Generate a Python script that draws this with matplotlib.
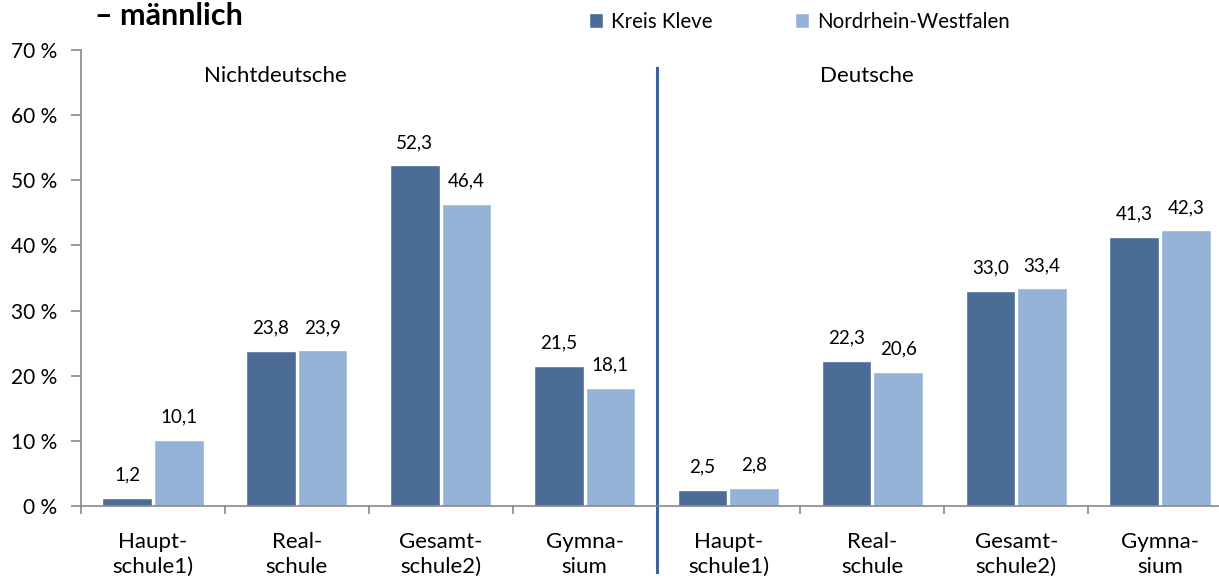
import numpy as np
import matplotlib.pyplot as plt

plt.rcParams['font.family'] = ['Lato', 'DejaVu Sans']

categories = ['Haupt-\nschule1)', 'Real-\nschule', 'Gesamt-\nschule2)', 'Gymna-\nsium',
              'Haupt-\nschule1)', 'Real-\nschule', 'Gesamt-\nschule2)', 'Gymna-\nsium']
kreis_kleve = [1.2, 23.8, 52.3, 21.5, 2.5, 22.3, 33.0, 41.3]
nrw = [10.1, 23.9, 46.4, 18.1, 2.8, 20.6, 33.4, 42.3]
yticks = [0, 10, 20, 30, 40, 50, 60, 70]

dark = '#4A6C96'
light = '#95B3D7'

W, H = 1219, 583
fig = plt.figure(figsize=(W / 100, H / 100), dpi=100)
ax = fig.add_axes([81 / W, 77 / H, 1151 / W, 456 / H])

x = np.arange(len(categories))
bw = 0.345
b1 = ax.bar(x - bw / 2 - 0.007, kreis_kleve, bw, color=dark, edgecolor='white', linewidth=1, label='Kreis Kleve')
b2 = ax.bar(x + bw / 2 + 0.007, nrw, bw, color=light, edgecolor='white', linewidth=1, label='Nordrhein-Westfalen')

for bars, vals in ((b1, kreis_kleve), (b2, nrw)):
    for r, v in zip(bars, vals):
        ax.text(r.get_x() + r.get_width() / 2, v + 2.2, f'{v:.1f}'.replace('.', ','),
                ha='center', va='bottom', fontsize=13.5)

ax.set_xlim(-0.5, len(categories) - 0.5)
ax.set_ylim(0, 70)
ax.set_yticks(yticks)
ax.set_yticklabels([f'{t} %' for t in yticks], fontsize=15)
ax.set_xticks(x)
ax.set_xticklabels(categories, fontsize=16, linespacing=1.3)
ax.set_xticks(np.arange(len(categories) + 1) - 0.5, minor=True)
ax.tick_params(axis='x', which='major', length=0, pad=19)
ax.tick_params(axis='x', which='minor', length=6, color='#898989', width=1.2)
ax.tick_params(axis='y', length=7, color='#898989', width=1.2, pad=10)

for s in ('top', 'right'):
    ax.spines[s].set_visible(False)
for s in ('left', 'bottom'):
    ax.spines[s].set_color('#898989')
    ax.spines[s].set_linewidth(1.2)

# separator between groups
ax.plot([3.5, 3.5], [-10.2, 67.2], color='#3C6497', lw=2.2, clip_on=False)

ax.text(0.85, 66, 'Nichtdeutsche', ha='center', va='center', fontsize=16)
ax.text(4.96, 66, 'Deutsche', ha='center', va='center', fontsize=16)

fig.text(95 / W, 1 - 25 / H, '– männlich', fontsize=22, fontweight='bold', ha='left', va='baseline')

ax.legend(loc='upper left', bbox_to_anchor=(570 / W, 1 + 7 / H), bbox_transform=fig.transFigure,
          ncol=2, frameon=False, fontsize=14.8, handlelength=0.7, handleheight=0.7,
          handletextpad=0.4, columnspacing=4.0)

fig.savefig('out.png', dpi=100)
